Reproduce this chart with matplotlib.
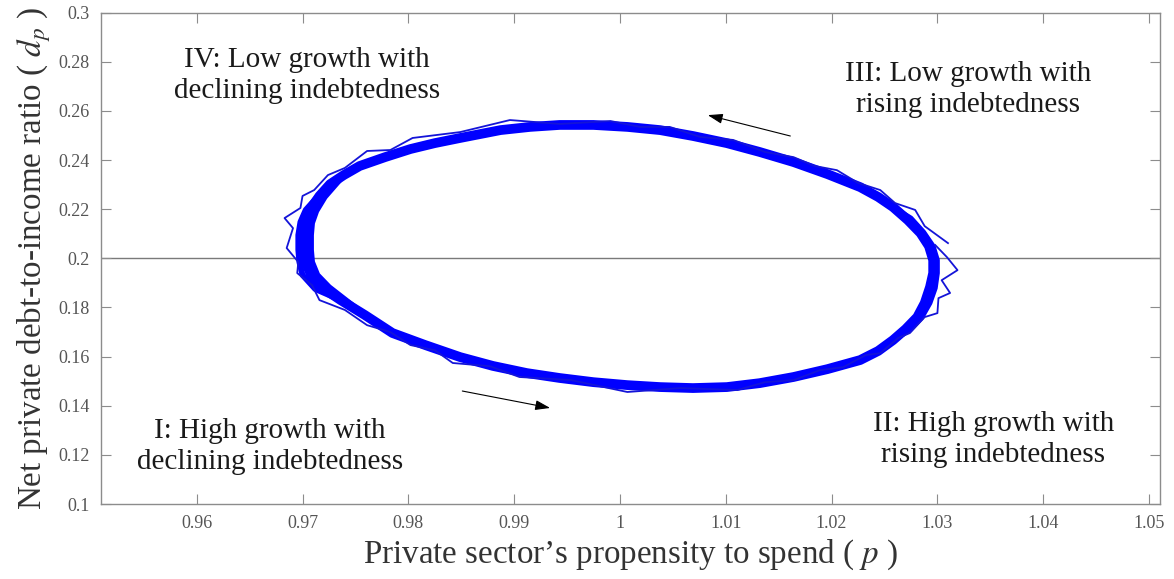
import matplotlib
matplotlib.use("Agg")
import matplotlib.pyplot as plt

plt.rcParams["font.family"] = ["Liberation Serif", "DejaVu Serif"]
plt.rcParams["mathtext.fontset"] = "stix"

# Limit cycle of (propensity to spend p, debt ratio d_p), traversed counter-clockwise
p_cycle = [0.9702, 0.9703, 0.9708, 0.9719, 0.9736, 0.9759, 0.9785, 0.9816, 0.9849, 0.9880,
           0.9912, 0.9943, 0.9975, 1.0007, 1.0038, 1.0069, 1.0101, 1.0132, 1.0164, 1.0196,
           1.0227, 1.0244, 1.0258, 1.0270, 1.0281, 1.0288, 1.0293, 1.0296, 1.0296, 1.0292,
           1.0284, 1.0272, 1.0258, 1.0244, 1.0227, 1.0196, 1.0164, 1.0132, 1.0101, 1.0069,
           1.0038, 1.0007, 0.9975, 0.9943, 0.9915, 0.9887, 0.9849, 0.9825, 0.9802, 0.9778,
           0.9754, 0.9739, 0.9726, 0.9716, 0.9707, 0.9703, 0.9702, 0.9702]
d_cycle = [0.2034, 0.1985, 0.1932, 0.1879, 0.1830, 0.1769, 0.1696, 0.1647, 0.1598, 0.1562,
           0.1533, 0.1513, 0.1496, 0.1484, 0.1476, 0.1472, 0.1476, 0.1492, 0.1517, 0.1549,
           0.1586, 0.1623, 0.1667, 0.1712, 0.1761, 0.1818, 0.1883, 0.1940, 0.1993, 0.2050,
           0.2103, 0.2156, 0.2209, 0.2250, 0.2290, 0.2343, 0.2392, 0.2433, 0.2469, 0.2498,
           0.2522, 0.2535, 0.2543, 0.2543, 0.2535, 0.2522, 0.2490, 0.2469, 0.2445, 0.2412,
           0.2376, 0.2339, 0.2302, 0.2254, 0.2197, 0.2148, 0.2095, 0.2034]

# Spread of the laps around the turning points of the cycle
p_left_outer = [0.9726, 0.9714, 0.9703, 0.9698, 0.9696, 0.9696, 0.9697, 0.9700, 0.9712, 0.9736]
d_left_outer = [0.2302, 0.2250, 0.2197, 0.2148, 0.2095, 0.2034, 0.1985, 0.1932, 0.1875, 0.1830]
p_left_inner = [0.9739, 0.9721, 0.9713, 0.9709, 0.9708, 0.9708, 0.9709, 0.9714, 0.9725, 0.9759]
d_left_inner = [0.2339, 0.2250, 0.2193, 0.2144, 0.2095, 0.2034, 0.1985, 0.1932, 0.1883, 0.1769]
p_right_outer = [1.0258, 1.0274, 1.0285, 1.0293, 1.0298, 1.0300, 1.0300, 1.0296, 1.0287,
                 1.0275, 1.0258]
d_right_outer = [0.1667, 0.1708, 0.1757, 0.1818, 0.1879, 0.1940, 0.1993, 0.2050, 0.2107,
                 0.2164, 0.2209]

# Early lap of the simulated path (coarse, zig-zagging around the cycle)
p_lap = [1.0310, 1.0288, 1.0279, 1.0260, 1.0246, 1.0225, 1.0205, 1.0184, 1.0164, 1.0137,
         1.0107, 1.0076, 1.0047, 1.0019, 0.9991, 0.9943, 0.9896, 0.9849, 0.9804, 0.9783,
         0.9761, 0.9740, 0.9724, 0.9711, 0.9700, 0.9698, 0.9683, 0.9691, 0.9685, 0.9696,
         0.9695, 0.9709, 0.9716, 0.9740, 0.9761, 0.9783, 0.9802, 0.9825, 0.9842, 0.9877,
         0.9905, 0.9953, 1.0007, 1.0057, 1.0111, 1.0137, 1.0164, 1.0189, 1.0211, 1.0232,
         1.0246, 1.0263, 1.0274, 1.0288, 1.0300, 1.0301, 1.0312, 1.0304, 1.0319, 1.0309,
         1.0298]
d_lap = [0.2062, 0.2131, 0.2197, 0.2225, 0.2278, 0.2307, 0.2359, 0.2376, 0.2412, 0.2433,
         0.2482, 0.2494, 0.2535, 0.2535, 0.2559, 0.2547, 0.2563, 0.2514, 0.2490, 0.2441,
         0.2437, 0.2368, 0.2339, 0.2278, 0.2254, 0.2205, 0.2164, 0.2123, 0.2042, 0.1985,
         0.1940, 0.1891, 0.1830, 0.1790, 0.1728, 0.1700, 0.1647, 0.1626, 0.1574, 0.1561,
         0.1517, 0.1505, 0.1456, 0.1472, 0.1464, 0.1496, 0.1504, 0.1545, 0.1557, 0.1606,
         0.1614, 0.1676, 0.1696, 0.1761, 0.1777, 0.1838, 0.1859, 0.1911, 0.1952, 0.2005,
         0.2054]

x_ticks = [0.96, 0.97, 0.98, 0.99, 1.00, 1.01, 1.02, 1.03, 1.04, 1.05]
x_labels = ["0.96", "0.97", "0.98", "0.99", "1", "1.01", "1.02", "1.03", "1.04", "1.05"]
y_ticks = [0.10, 0.12, 0.14, 0.16, 0.18, 0.20, 0.22, 0.24, 0.26, 0.28, 0.30]
y_labels = ["0.1", "0.12", "0.14", "0.16", "0.18", "0.2", "0.22", "0.24", "0.26", "0.28", "0.3"]

quadrants = [
    (0.9669, 0.1236, "I: High growth with\ndeclining indebtedness"),
    (1.0353, 0.1264, "II: High growth with\nrising indebtedness"),
    (1.0329, 0.2689, "III: Low growth with\nrising indebtedness"),
    (0.9704, 0.2746, "IV: Low growth with\ndeclining indebtedness"),
]

fig = plt.figure(figsize=(11.74, 5.79), dpi=100)
ax = fig.add_axes([0.0860, 0.1295, 0.9021, 0.8486])

ax.axhline(0.2, color="#7a7a7a", lw=1.0, zorder=1)

blue = "#0000ff"
line_kw = dict(color=blue, solid_joinstyle="round", solid_capstyle="round")
ax.plot(p_left_outer, d_left_outer, lw=4.2, zorder=2, **line_kw)
ax.plot(p_left_inner, d_left_inner, lw=4.2, zorder=2, **line_kw)
ax.plot(p_right_outer, d_right_outer, lw=3.5, zorder=2, **line_kw)
ax.plot(p_cycle, d_cycle, lw=7.0, zorder=3, **line_kw)
ax.plot(p_lap, d_lap, color="#1414d8", lw=1.3, zorder=4)

arrow_style = dict(arrowstyle="-|>,head_length=0.9,head_width=0.3", color="black", lw=0.8,
                   shrinkA=0, shrinkB=0)
ax.annotate("", xy=(1.0083, 0.2583), xytext=(1.0161, 0.2498), arrowprops=arrow_style)
ax.annotate("", xy=(0.9934, 0.1391), xytext=(0.9851, 0.1460), arrowprops=arrow_style)

for x, y, label in quadrants:
    ax.text(x, y, label, ha="center", va="center", fontsize=21, color="#1a1a1a",
            linespacing=1.25)

ax.set_xlim(0.95095, 1.05104)
ax.set_ylim(0.1, 0.3)
ax.set_xticks(x_ticks)
ax.set_xticklabels(x_labels)
ax.set_yticks(y_ticks)
ax.set_yticklabels(y_labels)

ax.tick_params(direction="in", length=7, width=0.8, color="#8c8c8c", labelcolor="#555555",
               labelsize=13, top=True, right=True, pad=8)
for s in ax.spines.values():
    s.set_color("#8c8c8c")
    s.set_linewidth(1.0)

ax.set_xlabel("Private sector’s propensity to spend ( $p$ )", fontsize=23.8, color="#333333",
              labelpad=4)
ax.set_ylabel("Net private debt-to-income ratio ( $d_p$ )", fontsize=23.8, color="#333333",
              labelpad=4)

fig.savefig("out.png", dpi=100)
